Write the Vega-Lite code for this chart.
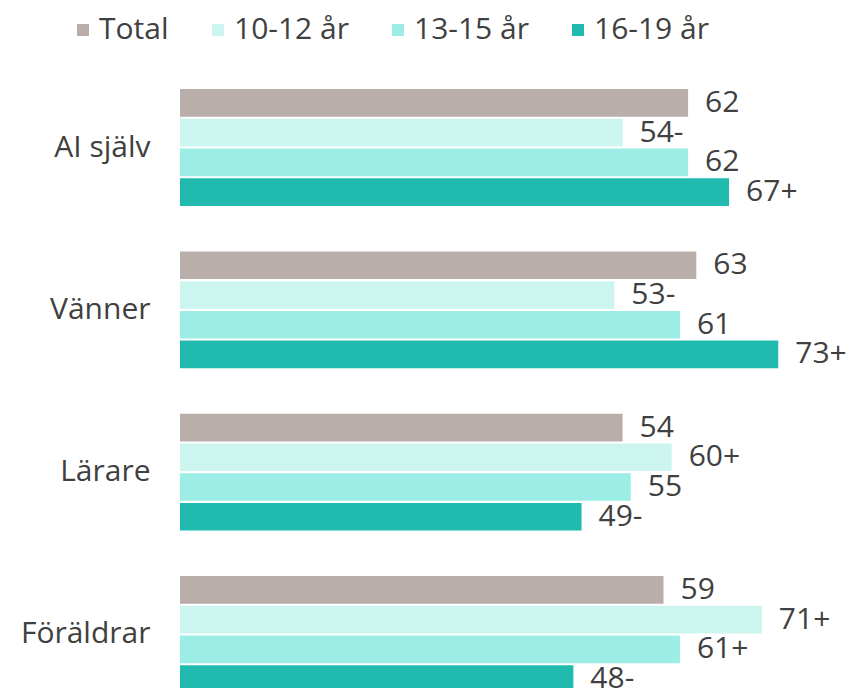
{
  "$schema": "https://vega.github.io/schema/vega-lite/v6.json",
  "width": 672,
  "height": 646,
  "autosize": {"type": "none"},
  "padding": {"left": 180, "top": 68, "right": 0, "bottom": 0},
  "background": "white",
  "config": {"view": {"stroke": null}, "font": "Open Sans"},
  "data": {
    "values": [
      {"cat": "AI själv", "grp": "Total", "v": 62, "label": "62"},
      {"cat": "AI själv", "grp": "10-12 år", "v": 54, "label": "54-"},
      {"cat": "AI själv", "grp": "13-15 år", "v": 62, "label": "62"},
      {"cat": "AI själv", "grp": "16-19 år", "v": 67, "label": "67+"},
      {"cat": "Vänner", "grp": "Total", "v": 63, "label": "63"},
      {"cat": "Vänner", "grp": "10-12 år", "v": 53, "label": "53-"},
      {"cat": "Vänner", "grp": "13-15 år", "v": 61, "label": "61"},
      {"cat": "Vänner", "grp": "16-19 år", "v": 73, "label": "73+"},
      {"cat": "Lärare", "grp": "Total", "v": 54, "label": "54"},
      {"cat": "Lärare", "grp": "10-12 år", "v": 60, "label": "60+"},
      {"cat": "Lärare", "grp": "13-15 år", "v": 55, "label": "55"},
      {"cat": "Lärare", "grp": "16-19 år", "v": 49, "label": "49-"},
      {"cat": "Föräldrar", "grp": "Total", "v": 59, "label": "59"},
      {"cat": "Föräldrar", "grp": "10-12 år", "v": 71, "label": "71+"},
      {"cat": "Föräldrar", "grp": "13-15 år", "v": 61, "label": "61+"},
      {"cat": "Föräldrar", "grp": "16-19 år", "v": 48, "label": "48-"}
    ]
  },
  "encoding": {
    "y": {
      "field": "cat", "type": "nominal",
      "sort": ["AI själv", "Vänner", "Lärare", "Föräldrar"],
      "scale": {"paddingInner": 0.28, "paddingOuter": 0.13},
      "axis": {"title": null, "domain": false, "ticks": false, "labelFontSize": 30, "labelColor": "#404040", "labelPadding": 30}
    },
    "yOffset": {
      "field": "grp", "type": "nominal",
      "sort": ["Total", "10-12 år", "13-15 år", "16-19 år"],
      "scale": {"paddingInner": 0.07}
    },
    "x": {"field": "v", "type": "quantitative", "scale": {"domain": [0, 82]}, "axis": null}
  },
  "layer": [
    {
      "mark": {"type": "bar"},
      "encoding": {
        "color": {
          "field": "grp", "type": "nominal",
          "scale": {"domain": ["Total", "10-12 år", "13-15 år", "16-19 år"], "range": ["#B9AEA9", "#CDF5F0", "#9BEDE6", "#20BBAE"]},
          "legend": {
            "title": null, "orient": "none", "direction": "horizontal",
            "legendX": -112, "legendY": -53,
            "labelFontSize": 30, "labelColor": "#404040",
            "symbolType": "square", "symbolSize": 144, "symbolStrokeWidth": 0,
            "columnPadding": 34, "labelOffset": 1
          }
        }
      }
    },
    {
      "mark": {"type": "text", "align": "left", "baseline": "middle", "dx": 17, "fontSize": 30, "color": "#404040"},
      "encoding": {"text": {"field": "label"}}
    }
  ]
}
